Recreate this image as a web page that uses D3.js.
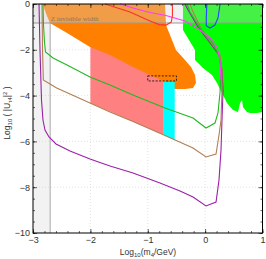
<!DOCTYPE html>
<html>
<head>
<meta charset="utf-8">
<script src="https://cdn.jsdelivr.net/npm/d3@7"></script>
<style>
body{margin:0;background:#fff;}
text{font-family:"Liberation Sans",Arial,sans-serif;}
</style>
</head>
<body>
<script>
var w = 266;
var h = 259;
var plotLeft = 33, plotRight = 262.5, plotTop = 4, plotBottom = 233;

// ticks
var xTicks = [-3, -2, -1, 0, 1];
var xTickLabels = ["\u22123", "\u22122", "\u22121", "0", "1"];
var yTicks = [-10, -8, -6, -4, -2, 0];
var yTickLabels = ["\u221210", "\u22128", "\u22126", "\u22124", "\u22122", "0"];

// bands
var leftBand = [-3, -2.7];
var zBand = [-0.83, 0];
var zBandText = "Z invisible width";

// regions  [log10 m4, log10 |U|^2]
var orangeRegion = [[-2.826,0],[-0.699,0],[-0.682,-0.917],[-0.612,-1.354],[-0.508,-2.009],
    [-0.351,-2.445],[-0.246,-2.751],[-0.176,-3.100],[-0.159,-3.450],[-0.211,-3.668],
    [-0.351,-3.712],[-0.525,-3.712],[-0.612,-3.581],[-0.699,-3.406],[-0.961,-3.100],
    [-1.257,-2.751],[-1.658,-2.227],[-2.007,-1.878],[-2.407,-1.266],[-2.704,-0.830],
    [-2.756,-0.524],[-2.808,-0.175]];
var pinkRegion = [[-2.0,0],[-0.72,0],[-0.72,-5.72],[-2.0,-4.32]];
var cyanRegion = [[-0.72,-3.41],[-0.53,-3.41],[-0.53,-5.94],[-0.72,-5.72]];
var greenRegion = [[-0.386,0],[1,0],[1,-4.716],[0.904,-4.760],[0.782,-4.760],[0.730,-4.716],
    [0.660,-4.498],[0.643,-4.192],[0.608,-4.323],[0.573,-4.716],[0.486,-4.629],[0.381,-4.323],
    [0.294,-3.886],[0.207,-3.450],[0.120,-3.100],[-0.037,-2.795],[-0.176,-2.445],
    [-0.176,-2.009],[-0.386,-1.135]];

// lines
var greenLine = [[-2.826,0],[-2.817,-0.917],[-2.800,-1.659],[-2.782,-2.096],[-2.651,-2.358],
    [-2.407,-2.664],[-2.007,-3.188],[-1.658,-3.537],[-1.257,-3.974],[-0.699,-4.541],
    [-0.211,-4.978],[0.015,-5.415],[0.172,-5.197],[0.224,-4.760],[0.259,-3.886],
    [0.277,-2.882],[0.242,-2.227],[0.120,-1.659],[-0.089,-1.048],[-0.264,-0.349],[-0.316,0]];
var brownLine = [[-2.843,0],[-2.834,-2.009],[-2.820,-3.319],[-2.704,-3.493],[-2.587,-3.668],
    [-2.355,-3.930],[-2.007,-4.323],[-1.658,-4.716],[-1.257,-5.131],[-0.699,-5.742],
    [-0.211,-6.288],[0.015,-6.681],[0.190,-6.550],[0.242,-5.721],[0.277,-5.066],
    [0.294,-3.755],[0.294,-2.882],[0.259,-2.227],[0.137,-1.790],[-0.054,-1.135],
    [-0.211,-0.349],[-0.264,0]];
var purpleLine = [[-2.895,0],[-2.878,-2.009],[-2.852,-4.192],[-2.826,-5.066],[-2.791,-5.502],
    [-2.721,-5.808],[-2.599,-6.114],[-2.355,-6.419],[-2.007,-6.769],[-1.658,-7.074],
    [-1.257,-7.380],[-0.787,-7.817],[-0.438,-8.166],[-0.211,-8.428],[0.015,-8.821],
    [0.190,-8.646],[0.242,-7.686],[0.277,-6.376],[0.294,-5.066],[0.312,-3.755],
    [0.294,-2.882],[0.242,-2.227],[0.085,-1.703],[-0.124,-1.004],[-0.298,-0.262],[-0.351,0]];
var magentaLine = [[-1.484,0],[-1.257,-0.175],[-0.961,-0.371],[-0.682,-0.502],[-0.351,-0.742],
    [-0.089,-1.135],[0.085,-1.485],[0.207,-1.878],[0.259,-2.445],[0.277,-3.319]];
var redLine = [[-1.745,0],[-1.309,-0.349],[-0.961,-0.742],[-0.80,-0.90],[-0.68,-0.92],
    [-0.59,-0.79],[-0.57,-0.5],[-0.57,0]];
var blueLine = [[0.03,0],[0.02,-0.6],[0.02,-0.95],[0.085,-1.05],[0.17,-0.92],[0.225,-0.61],[0.26,0]];

// dashed box [x0, x1, y0, y1]
var dashedBox = [-1.0, -0.5, -3.36, -3.14];

var svg = d3.select("body").append("svg")
    .attr("width", w)
    .attr("height", h);

var x = d3.scaleLinear().domain([-3, 1]).range([plotLeft, plotRight]);
var y = d3.scaleLinear().domain([-10, 0]).range([plotBottom, plotTop]);

var line = d3.line().x(function(d){ return x(d[0]); }).y(function(d){ return y(d[1]); });
var area = function(pts){ return line(pts) + "Z"; };

//---grey band at low mass-----
svg.append("rect")
    .attr("x", x(leftBand[0]))
    .attr("y", plotTop)
    .attr("width", x(leftBand[1]) - x(leftBand[0]))
    .attr("height", plotBottom - plotTop)
    .attr("fill", "#f2f2f2");
svg.append("line")
    .attr("x1", x(leftBand[1])).attr("x2", x(leftBand[1]))
    .attr("y1", plotTop).attr("y2", plotBottom)
    .attr("stroke", "#c4c4c4")
    .attr("stroke-width", 1.5);

//---grid-----
svg.append("g").selectAll("line").data([-2, -1, 0]).enter().append("line")
    .attr("x1", function(d){ return x(d); }).attr("x2", function(d){ return x(d); })
    .attr("y1", plotTop).attr("y2", plotBottom)
    .attr("stroke", "#d0d0d0").attr("stroke-width", 0.6).attr("stroke-dasharray", "1,2");
svg.append("g").selectAll("line").data([-8, -6, -4, -2]).enter().append("line")
    .attr("x1", plotLeft).attr("x2", plotRight)
    .attr("y1", function(d){ return y(d); }).attr("y2", function(d){ return y(d); })
    .attr("stroke", "#d0d0d0").attr("stroke-width", 0.6).attr("stroke-dasharray", "1,2");

//---regions-----
svg.append("path").attr("d", area(pinkRegion)).attr("fill", "#ff8080");
svg.append("path").attr("d", area(orangeRegion)).attr("fill", "#ff8000");
svg.append("path").attr("d", area(cyanRegion)).attr("fill", "#00ffff");
svg.append("path").attr("d", area(greenRegion)).attr("fill", "#00ff00");

//---Z invisible width band-----
svg.append("rect")
    .attr("x", plotLeft)
    .attr("y", y(zBand[1]))
    .attr("width", plotRight - plotLeft)
    .attr("height", y(zBand[0]) - y(zBand[1]))
    .attr("fill", "#d4d4d4")
    .attr("fill-opacity", 0.33);
svg.append("line")
    .attr("x1", plotLeft).attr("x2", plotRight)
    .attr("y1", y(zBand[0])).attr("y2", y(zBand[0]))
    .attr("stroke", "#999")
    .attr("stroke-width", 1);
svg.append("text")
    .text(zBandText)
    .attr("x", x(-2.69))
    .attr("y", y(-0.75))
    .attr("font-size", 7)
    .attr("font-family", "Liberation Serif")
    .style("font-family", "'Liberation Serif', serif")
    .attr("fill", "#8a7660");

//---lines-----
var lines = [
    [purpleLine, "#9b1fa8"],
    [brownLine, "#b07f50"],
    [greenLine, "#22b822"],
    [magentaLine, "#ff3cff"],
    [redLine, "#ff3030"],
    [blueLine, "#2244ff"]
];
lines.forEach(function(l){
    svg.append("path")
        .attr("d", line(l[0]))
        .attr("fill", "none")
        .attr("stroke", l[1])
        .attr("stroke-width", 1.1);
});

svg.append("rect")
    .attr("x", x(dashedBox[0]))
    .attr("y", y(dashedBox[3]))
    .attr("width", x(dashedBox[1]) - x(dashedBox[0]))
    .attr("height", y(dashedBox[2]) - y(dashedBox[3]))
    .attr("fill", "none")
    .attr("stroke", "#000")
    .attr("stroke-width", 0.8)
    .attr("stroke-dasharray", "2,1.5");

//---axes-----
var xMinor = d3.range(-3, 1.001, 0.2);
var yMinor = d3.range(-10, 0.001, 0.5);

function styleAxis(g){
    g.select(".domain").remove();
    g.selectAll("line").attr("stroke", "#000").attr("stroke-width", 0.6);
    g.selectAll("text").attr("fill", "#333").attr("font-size", 9)
        .style("font-family", "'Liberation Sans', Arial, sans-serif");
}

svg.append("g").attr("transform", "translate(0," + plotBottom + ")")
    .call(d3.axisBottom(x).tickValues(xMinor).tickSize(-2).tickFormat("")).call(styleAxis);
svg.append("g").attr("transform", "translate(0," + plotBottom + ")")
    .call(d3.axisBottom(x).tickValues(xTicks).tickSize(-4).tickPadding(4)
        .tickFormat(function(d, i){ return xTickLabels[i]; })).call(styleAxis);
svg.append("g").attr("transform", "translate(0," + plotTop + ")")
    .call(d3.axisTop(x).tickValues(xMinor).tickSize(-2).tickFormat("")).call(styleAxis);
svg.append("g").attr("transform", "translate(0," + plotTop + ")")
    .call(d3.axisTop(x).tickValues(xTicks).tickSize(-4).tickFormat("")).call(styleAxis);

svg.append("g").attr("transform", "translate(" + plotLeft + ",0)")
    .call(d3.axisLeft(y).tickValues(yMinor).tickSize(-2).tickFormat("")).call(styleAxis);
svg.append("g").attr("transform", "translate(" + plotLeft + ",0)")
    .call(d3.axisLeft(y).tickValues(yTicks).tickSize(-4).tickPadding(3)
        .tickFormat(function(d, i){ return yTickLabels[i]; })).call(styleAxis);
svg.append("g").attr("transform", "translate(" + plotRight + ",0)")
    .call(d3.axisRight(y).tickValues(yMinor).tickSize(-2).tickFormat("")).call(styleAxis);
svg.append("g").attr("transform", "translate(" + plotRight + ",0)")
    .call(d3.axisRight(y).tickValues(yTicks).tickSize(-4).tickFormat("")).call(styleAxis);

svg.append("rect")
    .attr("x", plotLeft).attr("y", plotTop)
    .attr("width", plotRight - plotLeft).attr("height", plotBottom - plotTop)
    .attr("fill", "none").attr("stroke", "#000").attr("stroke-width", 1);

//---axis titles-----
var xt = svg.append("text")
    .attr("x", 148).attr("y", 255)
    .attr("text-anchor", "middle")
    .attr("font-size", 8.5)
    .attr("fill", "#333");
xt.append("tspan").text("Log");
xt.append("tspan").text("10").attr("font-size", 6).attr("dy", 2);
xt.append("tspan").text("(m").attr("dy", -2);
xt.append("tspan").text("4").attr("font-size", 6).attr("dy", 2);
xt.append("tspan").text("/GeV)").attr("dy", -2);

var yt = svg.append("text")
    .attr("transform", "translate(10,113) rotate(-90)")
    .attr("text-anchor", "middle")
    .attr("font-size", 8.5)
    .attr("fill", "#333");
yt.append("tspan").text("Log");
yt.append("tspan").text("10").attr("font-size", 6).attr("dy", 2);
yt.append("tspan").text(" ( |U").attr("dy", -2);
yt.append("tspan").text("\u03c44").attr("font-size", 6).attr("dy", 2);
yt.append("tspan").text("|").attr("dy", -2);
yt.append("tspan").text("2").attr("font-size", 6).attr("dy", -3);
yt.append("tspan").text(" )").attr("dy", 3);
</script>
</body>
</html>
